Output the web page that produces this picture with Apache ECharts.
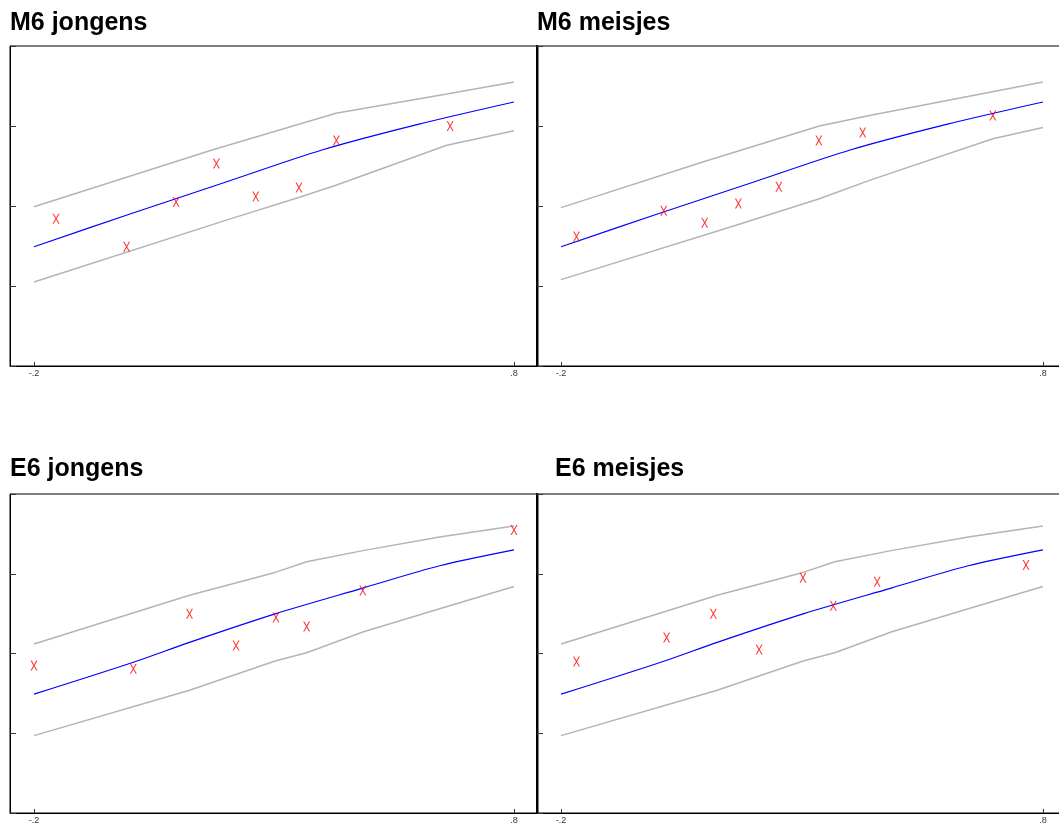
<!DOCTYPE html>
<html>
<head>
<meta charset="utf-8">
<script src="https://cdn.jsdelivr.net/npm/echarts@6/dist/echarts.min.js"></script>
<style>
html,body{margin:0;padding:0;background:#fff;overflow:hidden;width:1059px;height:825px;}
#chart{width:1080px;height:825px;}
</style>
</head>
<body>
<div id="chart"></div>
<script>
// ---- titles ----
const panelTitles = ['M6 jongens', 'M6 meisjes', 'E6 jongens', 'E6 meisjes'];

// ---- x tick labels ----
const xTickValues = [-0.2, 0.8];
const xTickLabels = ['-.2', '.8'];

// ---- M6 jongens ----
const mjX = [-0.154, -0.007, 0.096, 0.180, 0.262, 0.352, 0.430, 0.667];
const mjY = [1.84, 1.49, 2.05, 2.53, 2.12, 2.23, 2.82, 3.00];
const mjUpX = [-0.2, 0.171, 0.429, 0.660, 0.8];
const mjUpY = [1.99, 2.70, 3.16, 3.40, 3.55];
const mjLoX = [-0.2, 0.199, 0.353, 0.429, 0.660, 0.8];
const mjLoY = [1.05, 1.82, 2.11, 2.26, 2.76, 2.94];

// ---- M6 meisjes ----
const mmX = [-0.168, 0.013, 0.098, 0.168, 0.252, 0.335, 0.426, 0.696];
const mmY = [1.62, 1.94, 1.79, 2.03, 2.24, 2.82, 2.92, 3.13];
const mmUpX = [-0.2, 0.094, 0.336, 0.44, 0.8];
const mmUpY = [1.98, 2.55, 3.00, 3.13, 3.55];
const mmLoX = [-0.2, 0.163, 0.336, 0.44, 0.696, 0.8];
const mmLoY = [1.08, 1.76, 2.09, 2.32, 2.84, 2.98];

// ---- M6 median (blue) ----
const m6MedX = [-0.2, 0.0, 0.2, 0.4, 0.6, 0.8];
const m6MedY = [1.49, 1.90, 2.30, 2.70, 3.02, 3.30];

// ---- E6 jongens ----
const ejX = [-0.2, 0.007, 0.124, 0.221, 0.304, 0.368, 0.485, 0.8];
const ejY = [1.85, 1.81, 2.50, 2.10, 2.45, 2.34, 2.79, 3.55];

// ---- E6 meisjes ----
const emX = [-0.168, 0.019, 0.116, 0.211, 0.302, 0.365, 0.456, 0.765];
const emY = [1.90, 2.20, 2.50, 2.05, 2.95, 2.60, 2.90, 3.11];

// ---- E6 reference bands ----
const e6UpX = [-0.2, 0.124, 0.304, 0.368, 0.485, 0.645, 0.8];
const e6UpY = [2.12, 2.73, 3.02, 3.15, 3.29, 3.46, 3.60];
const e6LoX = [-0.2, 0.124, 0.304, 0.368, 0.485, 0.645, 0.8];
const e6LoY = [0.97, 1.54, 1.91, 2.01, 2.27, 2.56, 2.84];
const e6MedX = [-0.2, 0.007, 0.124, 0.304, 0.485, 0.645, 0.8];
const e6MedY = [1.49, 1.89, 2.14, 2.50, 2.82, 3.10, 3.30];

function zip(xs, ys) { return xs.map((x, i) => [x, ys[i]]); }

const panels = [
  { pts: [mjX, mjY], up: [mjUpX, mjUpY], lo: [mjLoX, mjLoY], med: [m6MedX, m6MedY] },
  { pts: [mmX, mmY], up: [mmUpX, mmUpY], lo: [mmLoX, mmLoY], med: [m6MedX, m6MedY] },
  { pts: [ejX, ejY], up: [e6UpX, e6UpY], lo: [e6LoX, e6LoY], med: [e6MedX, e6MedY] },
  { pts: [emX, emY], up: [e6UpX, e6UpY], lo: [e6LoX, e6LoY], med: [e6MedX, e6MedY] }
];

const gridPos = [
  { left: 10, top: 46, width: 528, height: 320 },
  { left: 537, top: 46, width: 530, height: 320 },
  { left: 10, top: 494, width: 528, height: 320 },
  { left: 537, top: 494, width: 530, height: 320 }
];
const titlePos = [
  { left: 10, top: 11 },
  { left: 537, top: 11 },
  { left: 10, top: 457 },
  { left: 555, top: 457 }
];

const xMark = 'path://M0,0L12,0L35,40L58,0L70,0L41,50L70,100L58,100L35,60L12,100L0,100L29,50Z';

const grids = [], xAxes = [], yAxes = [], series = [], titles = [];
panels.forEach((p, i) => {
  grids.push(Object.assign({ show: true, borderColor: '#000', borderWidth: 1, backgroundColor: 'transparent' }, gridPos[i]));
  titles.push(Object.assign({
    text: panelTitles[i], padding: 0,
    textStyle: { fontFamily: 'Liberation Sans, Arial, sans-serif', fontWeight: 'bold', fontSize: 25, color: '#000' }
  }, titlePos[i]));
  xAxes.push({
    type: 'value', gridIndex: i, min: -0.25, max: 0.85,
    splitLine: { show: false },
    axisLine: { show: true, onZero: false, lineStyle: { color: '#000', width: 1 } },
    axisTick: { show: true, inside: true, length: 4, customValues: xTickValues, lineStyle: { color: '#333' } },
    axisLabel: {
      show: true, customValues: xTickValues, margin: 3, fontSize: 9, color: '#333',
      fontFamily: 'Liberation Sans, Arial, sans-serif',
      formatter: v => { const k = xTickValues.findIndex(t => Math.abs(t - v) < 1e-9); return k >= 0 ? xTickLabels[k] : ''; }
    }
  });
  yAxes.push({
    type: 'value', gridIndex: i, min: 0, max: 4, interval: 1,
    splitLine: { show: false },
    axisLine: { show: true, onZero: false, lineStyle: { color: '#000', width: i % 2 === 1 ? 2 : 1 } },
    axisTick: { show: true, inside: true, length: 6, lineStyle: { color: '#333' } },
    axisLabel: { show: false }
  });
  const base = { xAxisIndex: i, yAxisIndex: i, silent: true, animation: false };
  series.push(Object.assign({ type: 'line', data: zip(p.up[0], p.up[1]), symbol: 'none', lineStyle: { color: '#b4b4b4', width: 1.5 }, z: 2 }, base));
  series.push(Object.assign({ type: 'line', data: zip(p.lo[0], p.lo[1]), symbol: 'none', lineStyle: { color: '#b4b4b4', width: 1.5 }, z: 2 }, base));
  series.push(Object.assign({ type: 'line', data: zip(p.med[0], p.med[1]), symbol: 'none', smooth: 0.3, lineStyle: { color: '#0000ff', width: 1.2 }, z: 3 }, base));
  series.push(Object.assign({ type: 'scatter', data: zip(p.pts[0], p.pts[1]), symbol: xMark, symbolSize: [7, 10], itemStyle: { color: '#ff0000' }, z: 4 }, base));
});

const chart = echarts.init(document.getElementById('chart'), null, { renderer: 'canvas' });
chart.setOption({
  animation: false,
  backgroundColor: '#fff',
  title: titles,
  grid: grids,
  xAxis: xAxes,
  yAxis: yAxes,
  series: series
});
</script>
</body>
</html>
